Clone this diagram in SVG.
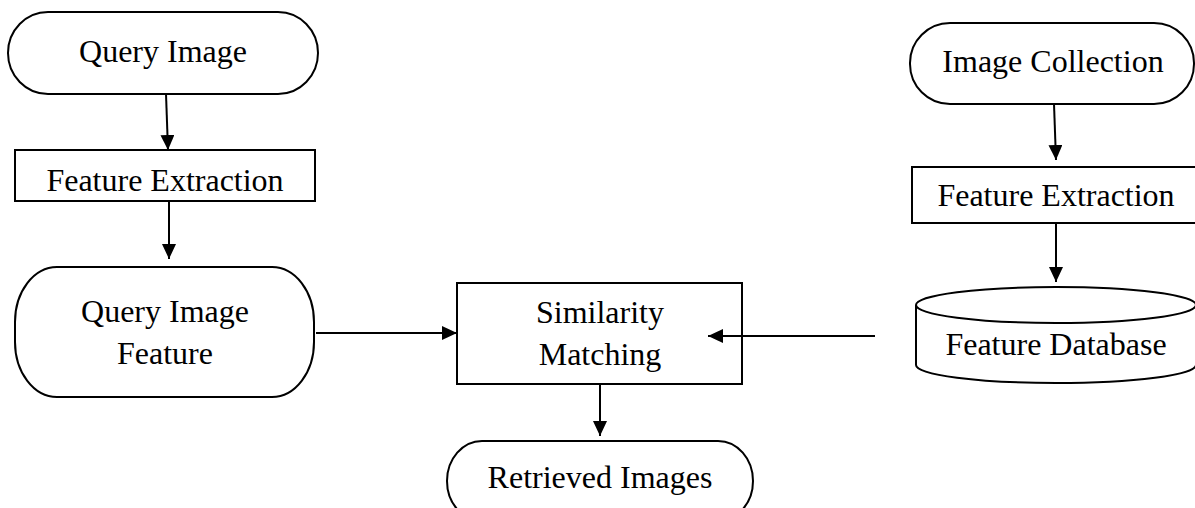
<svg xmlns="http://www.w3.org/2000/svg" width="1195" height="508" viewBox="0 0 1195 508">
  <style>
    .shape { fill: #ffffff; stroke: #000000; stroke-width: 2; }
    .lbl { font-family: "Liberation Serif", "Times New Roman", serif; font-size: 32px; fill: #000000; text-anchor: middle; }
    .conn { stroke: #000000; stroke-width: 2; fill: none; marker-end: url(#arrow); }
  </style>
  <defs>
    <marker id="arrow" markerUnits="userSpaceOnUse" markerWidth="16" markerHeight="14" refX="15" refY="7" orient="auto">
      <path d="M0,0 L15,7 L0,14 Z" fill="#000000"/>
    </marker>
  </defs>
  <rect width="1195" height="508" fill="#ffffff"/>

  <g id="connectors">
    <line class="conn" x1="166" y1="94" x2="168" y2="150"/>
    <line class="conn" x1="169" y1="201" x2="169" y2="259"/>
    <line class="conn" x1="316" y1="333" x2="457" y2="333"/>
    <line class="conn" x1="875" y1="336" x2="708" y2="336"/>
    <line class="conn" x1="600" y1="385" x2="600" y2="436"/>
    <line class="conn" x1="1054" y1="104" x2="1056" y2="160"/>
    <line class="conn" x1="1056" y1="223" x2="1056" y2="282"/>
  </g>

  <g id="query-image">
    <rect class="shape" x="8" y="12" width="310" height="82" rx="40" ry="41"/>
    <text class="lbl" x="163" y="62">Query Image</text>
  </g>

  <g id="feature-extraction-left">
    <rect class="shape" x="15" y="150" width="300" height="51"/>
    <text class="lbl" x="165" y="191">Feature Extraction</text>
  </g>

  <g id="query-image-feature">
    <rect class="shape" x="15" y="267" width="299" height="130" rx="42" ry="55"/>
    <text class="lbl" x="165" y="322">Query Image</text>
    <text class="lbl" x="165" y="364">Feature</text>
  </g>

  <g id="similarity-matching">
    <rect class="shape" x="457" y="283" width="285" height="101" fill-opacity="0"/>
    <text class="lbl" x="600" y="323">Similarity</text>
    <text class="lbl" x="600" y="365">Matching</text>
  </g>

  <g id="retrieved-images">
    <rect class="shape" x="447" y="441" width="306" height="80" rx="35" ry="40"/>
    <text class="lbl" x="600" y="488">Retrieved Images</text>
  </g>

  <g id="image-collection">
    <rect class="shape" x="910" y="23" width="284" height="81" rx="40" ry="40"/>
    <text class="lbl" x="1053" y="72">Image Collection</text>
  </g>

  <g id="feature-extraction-right">
    <rect class="shape" x="912" y="167" width="290" height="56"/>
    <text class="lbl" x="1056" y="206">Feature Extraction</text>
  </g>

  <g id="feature-database">
    <path class="shape" d="M916,305 A140,18 0 0 1 1196,305 L1196,365 A140,18 0 0 1 916,365 Z"/>
    <path class="shape" d="M916,305 A140,18 0 0 0 1196,305" fill="none"/>
    <text class="lbl" x="1056" y="355">Feature Database</text>
  </g>
</svg>
